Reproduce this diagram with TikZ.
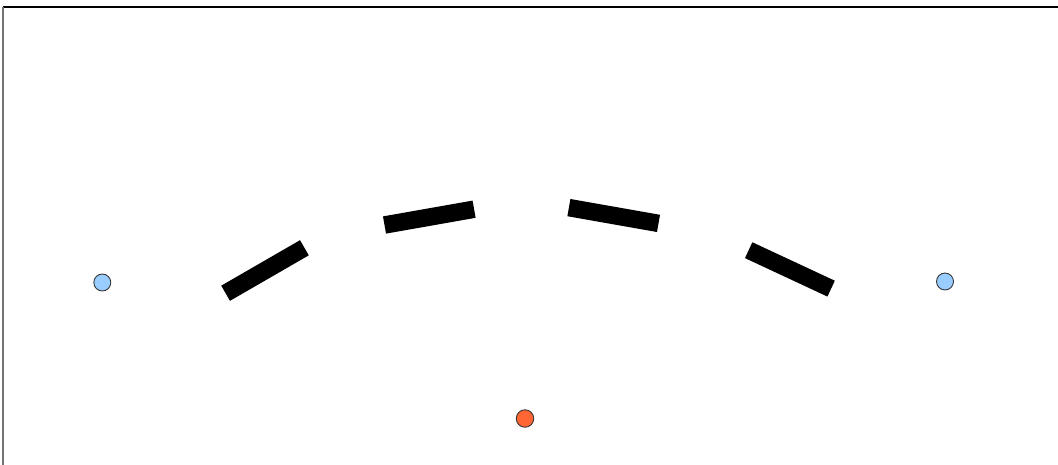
\documentclass[tikz,border=0pt]{standalone}
\usepackage{tikz}
\usetikzlibrary{positioning,shapes.geometric}
\usepackage{xcolor}
\definecolor{micblue}{RGB}{153,204,255}
\definecolor{srcorange}{RGB}{255,102,51}

\begin{document}
\begin{tikzpicture}[x=0.02cm,y=-0.02cm,
	panel/.style={fill=black, inner sep=0pt, minimum width=1.82cm, minimum height=0.35cm},
	mic/.style={circle, draw=black!80, fill=micblue, inner sep=0pt, minimum size=0.34cm, line width=0.5pt},
	source/.style={circle, draw=black!80, fill=srcorange, inner sep=0pt, minimum size=0.35cm, line width=0.5pt}]
	\useasboundingbox (0,0) rectangle (1058,464);
	% frame
	\draw[line width=1.1pt] (3,7) -- (1062,7);
	\draw[line width=1.1pt, black!55] (3,6.5) -- (3,470);
	% receivers and source
	\node[mic] (micL) at (102.3,282.5) {};
	\node[mic] (micR) at (945,281.5) {};
	\node[source] (src) at (525,418.5) {};
	% reflector panels
	\node[panel, rotate=30] (p1) at (265,270.5) {};
	\node[panel, rotate=10] (p2) at (429.3,217.1) {};
	\node[panel, rotate=-10] (p3) at (613.7,215.5) {};
	\node[panel, rotate=-25] (p4) at (789.9,269.4) {};
\end{tikzpicture}
\end{document}
